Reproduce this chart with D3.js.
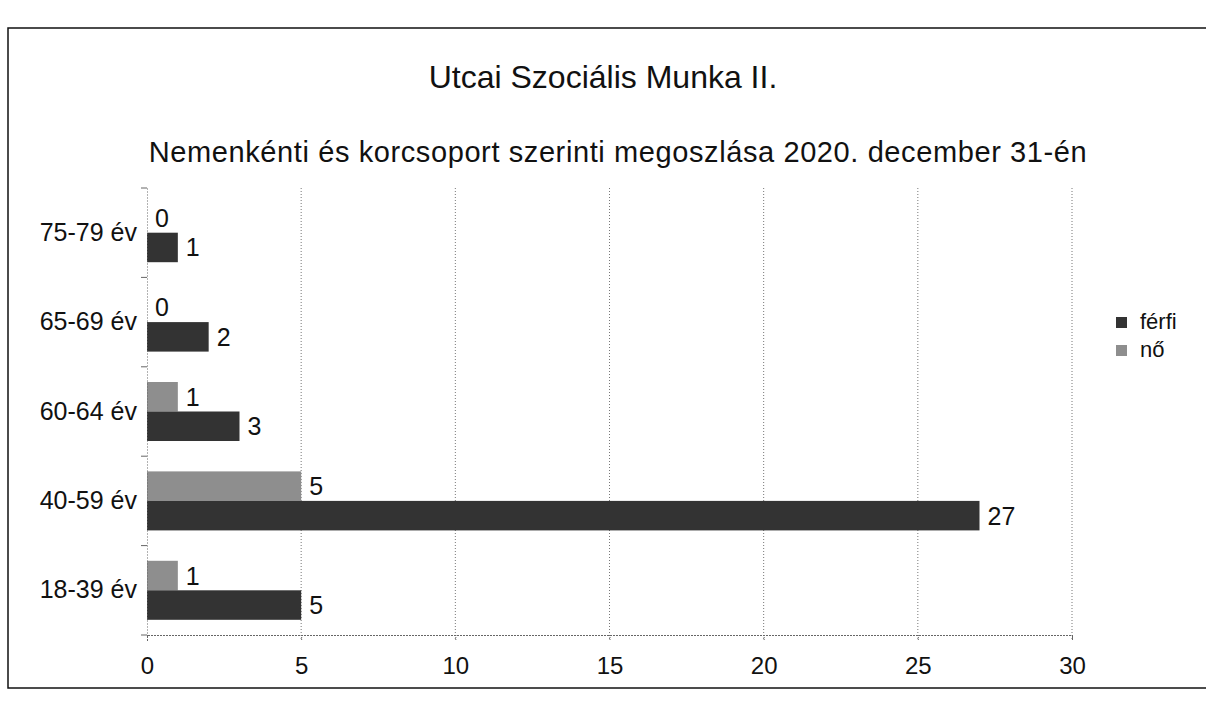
<!DOCTYPE html>
<html><head><meta charset="utf-8">
<script src="https://cdn.jsdelivr.net/npm/d3@7"></script>
<style>body{margin:0;background:#fff}svg{display:block;font-family:"Liberation Sans",Arial,sans-serif}</style>
</head><body>
<svg id="c" width="1206" height="703"></svg>
<script>
const categories = ["75-79 év","65-69 év","60-64 év","40-59 év","18-39 év"];
const series = ["nő","férfi"];
const noValues = [0,0,1,5,1];
const ferfiValues = [1,2,3,27,5];
const xTicks = [0,5,10,15,20,25,30];
const legendItems = ["férfi","nő"];
const colors = {"férfi":"#333333","nő":"#8e8e8e"};

(function(){
const svg = d3.select("#c");
const FF = "Liberation Sans, Arial, sans-serif";
// outer frame
svg.append("rect").attr("x",8).attr("y",28).attr("width",1210).attr("height",660)
  .attr("fill","none").attr("stroke","#111").attr("stroke-width",1.5);

svg.append("text").attr("x",603).attr("y",88).attr("text-anchor","middle")
  .attr("font-size",32).attr("fill","#111").text("Utcai Szociális Munka II.");
svg.append("text").attr("x",618).attr("y",162).attr("text-anchor","middle")
  .attr("font-size",29).attr("fill","#111").attr("letter-spacing","0.6px")
  .text("Nemenkénti és korcsoport szerinti megoszlása 2020. december 31-én");

const pl=147, pr=1072, pt=188, pb=635;
const x = d3.scaleLinear().domain([0,30]).range([pl,pr]);
const y = d3.scaleBand().domain(categories).range([pt,pb]).paddingInner(0.34).paddingOuter(0.17);
const y1 = d3.scaleBand().domain(series).range([0,y.bandwidth()]);

// gridlines
svg.append("g").selectAll("line").data(xTicks.filter(d=>d>0)).join("line")
  .attr("x1",d=>x(d)).attr("x2",d=>x(d)).attr("y1",pt).attr("y2",pb+6)
  .attr("stroke","#777").attr("stroke-width",1).attr("stroke-dasharray","1,2");

const data = categories.map((c,i)=>({cat:c, vals:[{s:"nő",v:noValues[i]},{s:"férfi",v:ferfiValues[i]}]}));
const g = svg.append("g").selectAll("g").data(data).join("g")
  .attr("transform",d=>`translate(0,${y(d.cat)})`);
g.selectAll("rect").data(d=>d.vals).join("rect")
  .attr("x",x(0)).attr("y",d=>y1(d.s)).attr("width",d=>x(d.v)-x(0)).attr("height",y1.bandwidth())
  .attr("fill",d=>colors[d.s]);
g.selectAll("text").data(d=>d.vals).join("text")
  .attr("x",d=>x(d.v)+8).attr("y",d=>y1(d.s)+y1.bandwidth()/2+9)
  .attr("font-size",25).attr("fill","#111").text(d=>d.v);

// axes
const xAxis = svg.append("g").attr("transform",`translate(0,${pb})`)
  .call(d3.axisBottom(x).tickValues(xTicks).tickSize(6).tickPadding(16));
xAxis.select(".domain").attr("stroke","#666").attr("stroke-dasharray","2,1");
xAxis.selectAll(".tick line").attr("stroke","#666").attr("stroke-dasharray","1,1");
xAxis.selectAll("text").attr("font-size",24).attr("fill","#111").attr("font-family",FF);

const yAxis = svg.append("g").attr("transform",`translate(${pl},0)`)
  .call(d3.axisLeft(y).tickSize(0).tickPadding(10));
yAxis.select(".domain").attr("stroke","#666").attr("stroke-dasharray","1,2");
yAxis.selectAll("text").attr("font-size",25).attr("fill","#111").attr("font-family",FF);
// category separators
svg.append("g").selectAll("line").data(d3.range(categories.length+1)).join("line")
  .attr("x1",pl-6).attr("x2",pl).attr("y1",d=>pt+d*(pb-pt)/categories.length)
  .attr("y2",d=>pt+d*(pb-pt)/categories.length).attr("stroke","#666");

// legend
const lg = svg.append("g").selectAll("g").data(legendItems).join("g")
  .attr("transform",(d,i)=>`translate(1116,${317+i*28})`);
lg.append("rect").attr("width",11).attr("height",11).attr("fill",d=>colors[d]);
lg.append("text").attr("x",24).attr("y",12).attr("font-size",22).attr("fill","#111").text(d=>d);
})();
</script>
</body></html>
